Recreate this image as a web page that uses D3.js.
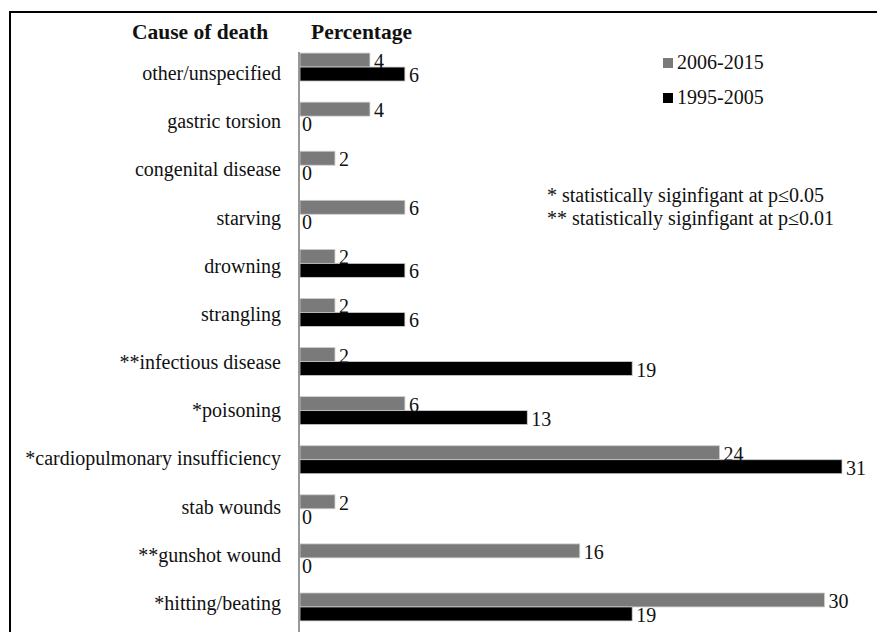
<!DOCTYPE html>
<html>
<head>
<meta charset="utf-8">
<script src="https://cdn.jsdelivr.net/npm/d3@7"></script>
<style>
  body { margin: 0; background: #fff; }
</style>
</head>
<body>
<div id="chart"></div>
<script>
// Categories from top to bottom
const causes = [
    "other/unspecified", "gastric torsion", "congenital disease", "starving",
    "drowning", "strangling", "**infectious disease", "*poisoning",
    "*cardiopulmonary insufficiency", "stab wounds", "**gunshot wound", "*hitting/beating"
];
const recent = [4, 4, 2, 6, 2, 2, 2, 6, 24, 2, 16, 30];   // 2006-2015
const older = [6, 0, 0, 0, 6, 6, 19, 13, 31, 0, 0, 19];   // 1995-2005
const seriesNames = ["2006-2015", "1995-2005"];
const seriesColors = ["#7a7a7a", "#000000"];
const notes = ["* statistically siginfigant at p\u22640.05", "** statistically siginfigant at p\u22640.01"];

const width = 877, height = 632;
const svg = d3.create("svg")
    .attr("width", width)
    .attr("height", height)
    .style("font-family", "\"Liberation Serif\", serif")
    .attr("fill", "#111");

// frame (top and left edges visible)
svg.append("path")
    .attr("d", "M10,633 L10,12 L877,12")
    .attr("fill", "none")
    .attr("stroke", "#000")
    .attr("stroke-width", 2);

const x = d3.scaleLinear().domain([0, 31]).range([300, 842]);
const y = d3.scaleBand().domain(causes).range([42.5, 631.5]).paddingInner(0.43).paddingOuter(0.215);
const labelY = d3.scalePoint().domain(causes).range([80, 610]);

const rows = causes.map((c, i) => ({ cause: c, vals: [recent[i], older[i]] }));

const barH = y.bandwidth() / 2;

const group = svg.append("g")
    .selectAll("g")
    .data(rows)
    .enter().append("g")
    .attr("transform", d => `translate(0,${y(d.cause)})`);

group.selectAll("rect")
    .data(d => d.vals)
    .enter().append("rect")
    .attr("x", x(0))
    .attr("y", (v, j) => j * barH)
    .attr("width", v => x(v) - x(0))
    .attr("height", barH)
    .attr("fill", (v, j) => seriesColors[j])
    .attr("stroke", (v, j) => v > 0 ? "#cfcfcf" : "none")
    .attr("stroke-width", 0.8);

group.selectAll("text")
    .data(d => d.vals)
    .enter().append("text")
    .attr("x", v => x(v) + (v > 0 ? 4 : 2))
    .attr("y", (v, j) => (j + 1) * barH + 1)
    .attr("font-size", 20)
    .text(v => v);

// category labels
svg.append("g")
    .selectAll("text")
    .data(causes)
    .enter().append("text")
    .attr("x", 281)
    .attr("y", d => labelY(d))
    .attr("text-anchor", "end")
    .attr("font-size", 20)
    .text(d => d);

// axis line
svg.append("line")
    .attr("x1", 299).attr("x2", 299)
    .attr("y1", 52).attr("y2", 633)
    .attr("stroke", "#777")
    .attr("stroke-width", 1.5);

// headers
svg.append("text").attr("x", 132).attr("y", 39)
    .attr("font-size", 21.5).attr("font-weight", "bold").text("Cause of death");
svg.append("text").attr("x", 311).attr("y", 39)
    .attr("font-size", 21.5).attr("font-weight", "bold").text("Percentage");

// legend
const legend = svg.append("g")
    .selectAll("g")
    .data(seriesNames)
    .enter().append("g")
    .attr("transform", (d, i) => `translate(663,${58 + i * 35})`);
legend.append("rect")
    .attr("width", 10).attr("height", 10)
    .attr("fill", (d, i) => seriesColors[i]);
legend.append("text")
    .attr("x", 14).attr("y", 11)
    .attr("font-size", 20)
    .text(d => d);

// significance notes
svg.append("g")
    .selectAll("text")
    .data(notes)
    .enter().append("text")
    .attr("x", 547)
    .attr("y", (d, i) => 202 + i * 23)
    .attr("font-size", 20)
    .text(d => d);

document.getElementById("chart").appendChild(svg.node());
</script>
</body>
</html>
